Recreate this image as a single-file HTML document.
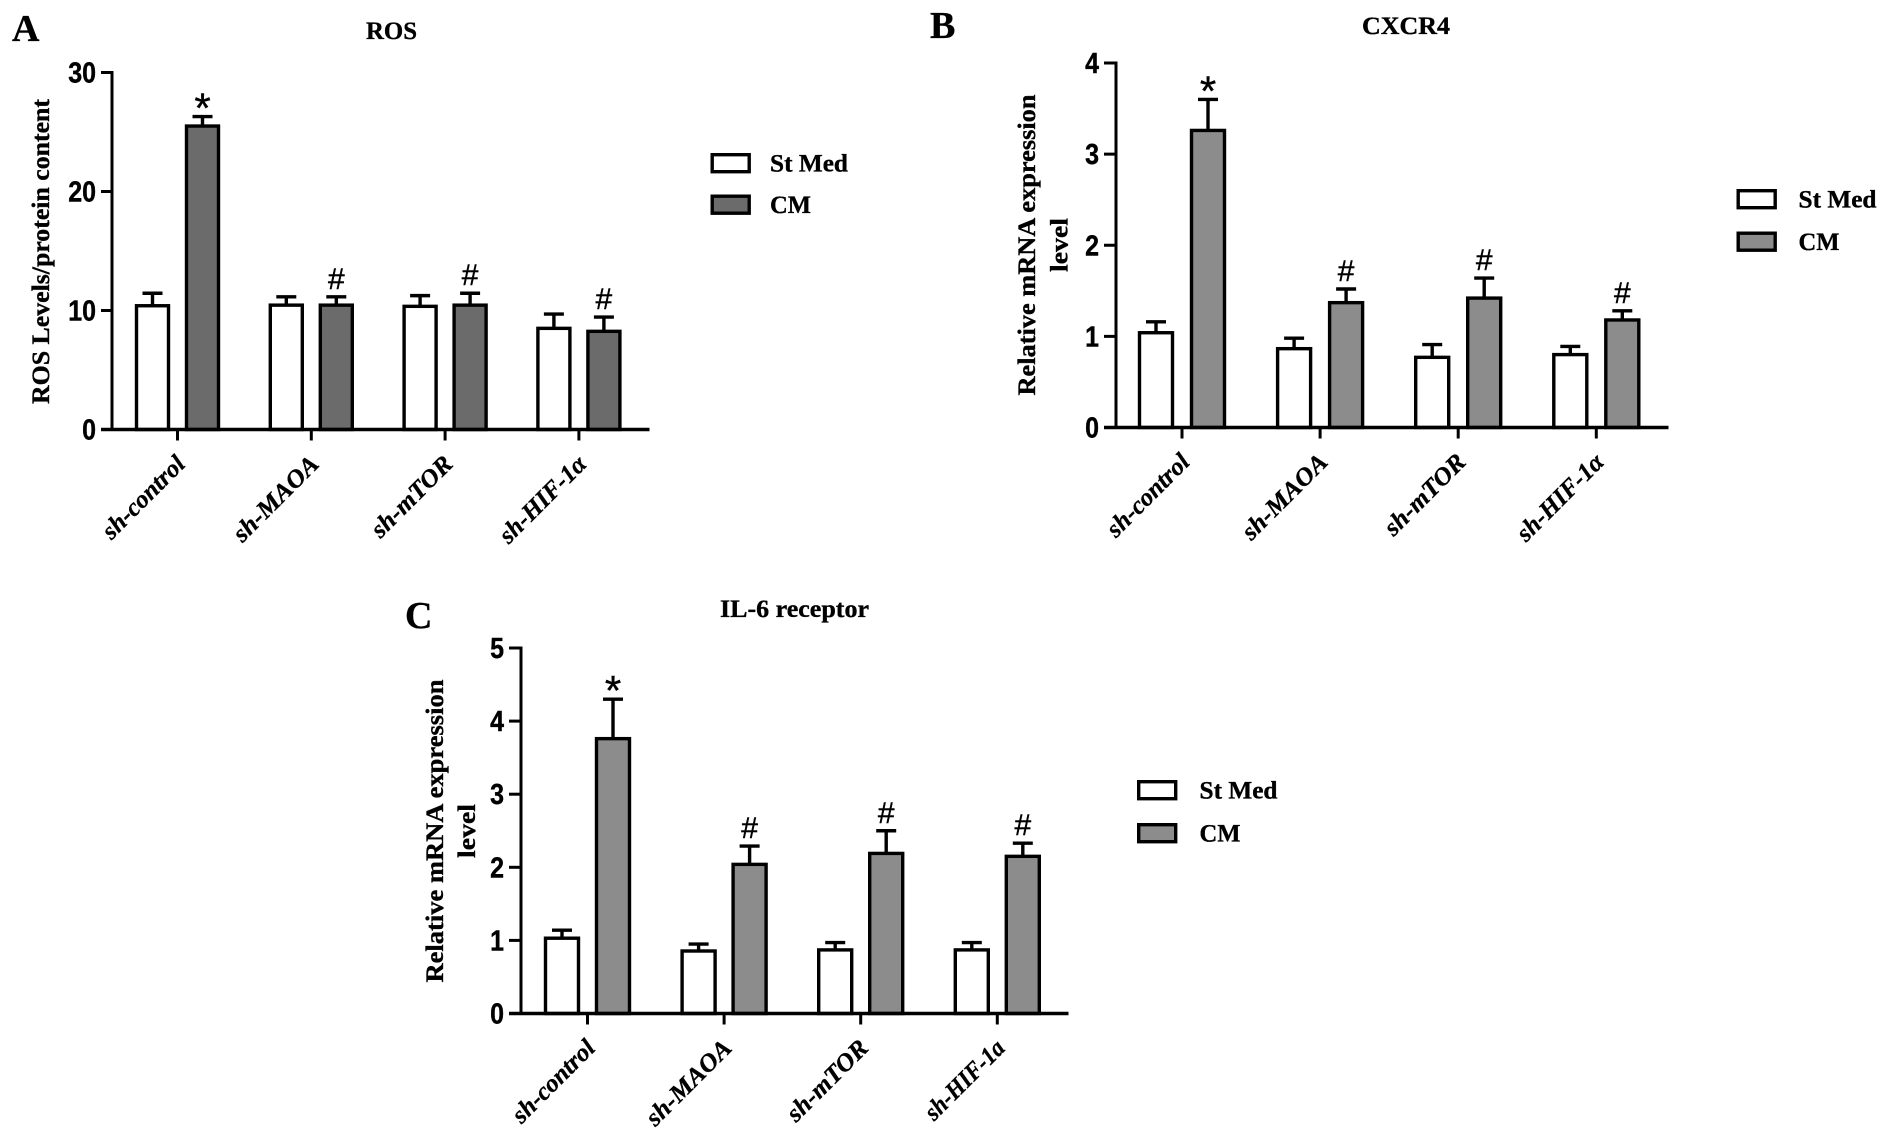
<!DOCTYPE html>
<html lang="en">
<head>
<meta charset="utf-8">
<title>ROS, CXCR4 and IL-6 receptor bar charts</title>
<style>
html,body{margin:0;padding:0;background:#fff;width:1890px;height:1141px;overflow:hidden}
svg{display:block}
text{fill:#000}
.serif{font-family:"Liberation Serif",serif;font-weight:bold;stroke:#000;stroke-width:.35px}
.sans{font-family:"Liberation Sans",sans-serif}
.heavy{stroke:#000;stroke-width:.4px}
</style>
</head>
<body>
<svg id="figure" width="1890" height="1141" viewBox="0 0 1890 1141" xmlns="http://www.w3.org/2000/svg"></svg>
<script>
// ---- Data ----
const seriesNames = ['St Med', 'CM'];

const categoriesA = ['sh-control', 'sh-MAOA', 'sh-mTOR', 'sh-HIF-1\u03b1'];
const yTicksA = [0, 10, 20, 30];
const stMedA = [10.4, 10.45, 10.35, 8.5];
const cmA = [25.5, 10.45, 10.45, 8.25];
const stMedErrTopA = [11.45, 11.15, 11.25, 9.7];
const cmErrTopA = [26.3, 11.15, 11.45, 9.45];
const marksA = ['*', '#', '#', '#'];

const categoriesB = ['sh-control', 'sh-MAOA', 'sh-mTOR', 'sh-HIF-1\u03b1'];
const yTicksB = [0, 1, 2, 3, 4];
const stMedB = [1.04, 0.865, 0.77, 0.8];
const cmB = [3.26, 1.37, 1.42, 1.18];
const stMedErrTopB = [1.16, 0.98, 0.91, 0.89];
const cmErrTopB = [3.6, 1.52, 1.64, 1.28];
const marksB = ['*', '#', '#', '#'];

const categoriesC = ['sh-control', 'sh-MAOA', 'sh-mTOR', 'sh-HIF-1a'];
const yTicksC = [0, 1, 2, 3, 4, 5];
const stMedC = [1.03, 0.855, 0.87, 0.87];
const cmC = [3.76, 2.04, 2.19, 2.15];
const stMedErrTopC = [1.14, 0.95, 0.97, 0.97];
const cmErrTopC = [4.3, 2.29, 2.5, 2.33];
const marksC = ['*', '#', '#', '#'];

// ---- Layout ----
const svg = document.getElementById('figure');
const NS = 'http://www.w3.org/2000/svg';

function make(tag, attrs, parent, text) {
  const el = document.createElementNS(NS, tag);
  for (const k in attrs) el.setAttribute(k, attrs[k]);
  if (text !== undefined) el.textContent = text;
  parent.appendChild(el);
  return el;
}

function drawPanel(p) {
  const g = make('g', {}, svg);
  
  

  const yMax = p.yTicks[p.yTicks.length - 1];
  const yScale = v => p.y0 + (p.yTop - p.y0) * v / yMax;
  const xCenter = i => p.xFirst + i * p.xStep;
  const barOffset = [-p.barGap, p.barGap];
  const lineW = 3.4;

  // panel letter & title
  const letter = make('text', {x: p.letterX, y: p.letterY, class: 'serif', 'font-size': 38}, g, p.letter);
  
  

  const title = make('text', {x: p.titleX, y: p.titleY, class: 'serif', 'font-size': 25, textLength: p.titleLen, lengthAdjust: 'spacingAndGlyphs'}, g, p.title);
  
  

  // y axis title
  p.yTitle.forEach((line, i) => {
    const t = make('text', {
      transform: 'translate(' + line.x + ',' + p.yTitleCenter + ') rotate(-90)',
      class: 'serif', 'font-size': 25, 'text-anchor': 'middle',
      textLength: line.len, lengthAdjust: 'spacingAndGlyphs'
    }, g, line.text);
    
    
  });

  // bars and error bars
  [p.stMed, p.cm].forEach((series, s) => {
    const errs = s === 0 ? p.stMedErr : p.cmErr;
    series.forEach((v, i) => {
      const cx = xCenter(i) + barOffset[s];
      const top = yScale(v);
      const errTop = yScale(errs[i]);
      const err = make('line', {x1: cx, x2: cx, y1: top, y2: errTop, stroke: '#000', 'stroke-width': lineW}, g);
      
      
      const cap = make('line', {x1: cx - p.capHalf, x2: cx + p.capHalf, y1: errTop, y2: errTop, stroke: '#000', 'stroke-width': lineW}, g);
      
      
      const bar = make('rect', {
        x: cx - p.barW / 2, y: top, width: p.barW, height: p.y0 - top,
        fill: s === 0 ? '#ffffff' : p.cmFill, stroke: '#000', 'stroke-width': lineW
      }, g);
      
      
    });
  });

  // significance marks above the CM error bars
  p.marks.forEach((m, i) => {
    const cx = xCenter(i) + p.barGap;
    const errTop = yScale(p.cmErr[i]);
    const isStar = m === '*';
    const t = make('text', {
      x: cx, y: errTop + (isStar ? 6 : -8), class: 'sans heavy',
      'font-size': isStar ? 42 : 30, 'text-anchor': 'middle'
    }, g, m);
    
    
  });

  // axes
  const yAxis = make('line', {x1: p.axisX, x2: p.axisX, y1: p.y0 + 1.5, y2: p.yTop - 1.5, stroke: '#000', 'stroke-width': 3}, g);
  
  
  const xAxis = make('line', {x1: p.axisX - p.tickLen, x2: p.xEnd, y1: p.y0, y2: p.y0, stroke: '#000', 'stroke-width': 3.6}, g);
  
  

  p.yTicks.forEach(v => {
    const y = yScale(v);
    const tick = make('line', {x1: p.axisX - p.tickLen, x2: p.axisX, y1: y, y2: y, stroke: '#000', 'stroke-width': 3}, g);
    
    
    const str = String(v);
    const lab = make('text', {
      x: p.axisX - p.tickLen - 5, y: y + 10, class: 'sans heavy', 'font-size': 29, 'font-weight': 'bold',
      'text-anchor': 'end', textLength: 13.9 * str.length, lengthAdjust: 'spacingAndGlyphs'
    }, g, str);
    
    
  });

  p.categories.forEach((c, i) => {
    const x = xCenter(i);
    const tick = make('line', {x1: x, x2: x, y1: p.y0, y2: p.y0 + 11, stroke: '#000', 'stroke-width': 3}, g);
    
    
    const lab = make('text', {
      transform: 'translate(' + (x + 9) + ',' + (p.y0 + 36) + ') rotate(-45)',
      class: 'serif', 'font-size': 25, 'font-style': 'italic', 'text-anchor': 'end',
      textLength: p.labelLens[i], lengthAdjust: 'spacingAndGlyphs'
    }, g, c);
    
    
  });

  // legend
  seriesNames.forEach((name, s) => {
    const y = p.legendY[s];
    const box = make('rect', {
      x: p.legendX + 1.7, y: y + 1.7, width: 37, height: 17,
      fill: s === 0 ? '#ffffff' : p.cmFill, stroke: '#000', 'stroke-width': 3.4
    }, g);
    
    
    const t = make('text', {
      x: p.legendTextX, y: y + 18.5, class: 'serif', 'font-size': 25,
      textLength: s === 0 ? 78 : 41, lengthAdjust: 'spacingAndGlyphs'
    }, g, name);
    
    
  });
}

drawPanel({
  id: 'a', letter: 'A', letterX: 12, letterY: 41,
  title: 'ROS', titleX: 366, titleY: 39, titleLen: 51,
  categories: categoriesA, yTicks: yTicksA, stMed: stMedA, cm: cmA,
  stMedErr: stMedErrTopA, cmErr: cmErrTopA, marks: marksA,
  cmFill: '#6b6b6b', axisX: 112, tickLen: 11, y0: 429.5, yTop: 72.5, xEnd: 649.5,
  xFirst: 177.5, xStep: 133.8, barGap: 25, barW: 32, capHalf: 10,
  yTitle: [{text: 'ROS Levels/protein content', x: 49, len: 305}], yTitleCenter: 251.5,
  labelLens: [106, 110, 104, 112],
  legendX: 710.5, legendTextX: 770, legendY: [153, 194.5]
});

drawPanel({
  id: 'b', letter: 'B', letterX: 930, letterY: 38,
  title: 'CXCR4', titleX: 1362, titleY: 34, titleLen: 88,
  categories: categoriesB, yTicks: yTicksB, stMed: stMedB, cm: cmB,
  stMedErr: stMedErrTopB, cmErr: cmErrTopB, marks: marksB,
  cmFill: '#8c8c8c', axisX: 1116, tickLen: 12, y0: 427.5, yTop: 63, xEnd: 1668.5,
  xFirst: 1182, xStep: 138.1, barGap: 26, barW: 33, capHalf: 10,
  yTitle: [{text: 'Relative mRNA expression', x: 1035, len: 301}, {text: 'level', x: 1067.5, len: 54}], yTitleCenter: 245,
  labelLens: [106, 110, 104, 112],
  legendX: 1736.5, legendTextX: 1798.5, legendY: [189, 231.5]
});

drawPanel({
  id: 'c', letter: 'C', letterX: 405, letterY: 628,
  title: 'IL-6 receptor', titleX: 720, titleY: 617, titleLen: 149,
  categories: categoriesC, yTicks: yTicksC, stMed: stMedC, cm: cmC,
  stMedErr: stMedErrTopC, cmErr: cmErrTopC, marks: marksC,
  cmFill: '#8c8c8c', axisX: 521, tickLen: 12, y0: 1013.5, yTop: 648, xEnd: 1068.5,
  xFirst: 587.5, xStep: 136.6, barGap: 25.5, barW: 33, capHalf: 10,
  yTitle: [{text: 'Relative mRNA expression', x: 443, len: 303}, {text: 'level', x: 475, len: 54}], yTitleCenter: 831,
  labelLens: [106, 110, 104, 102],
  legendX: 1137, legendTextX: 1199.5, legendY: [780, 823]
});
</script>
</body>
</html>
